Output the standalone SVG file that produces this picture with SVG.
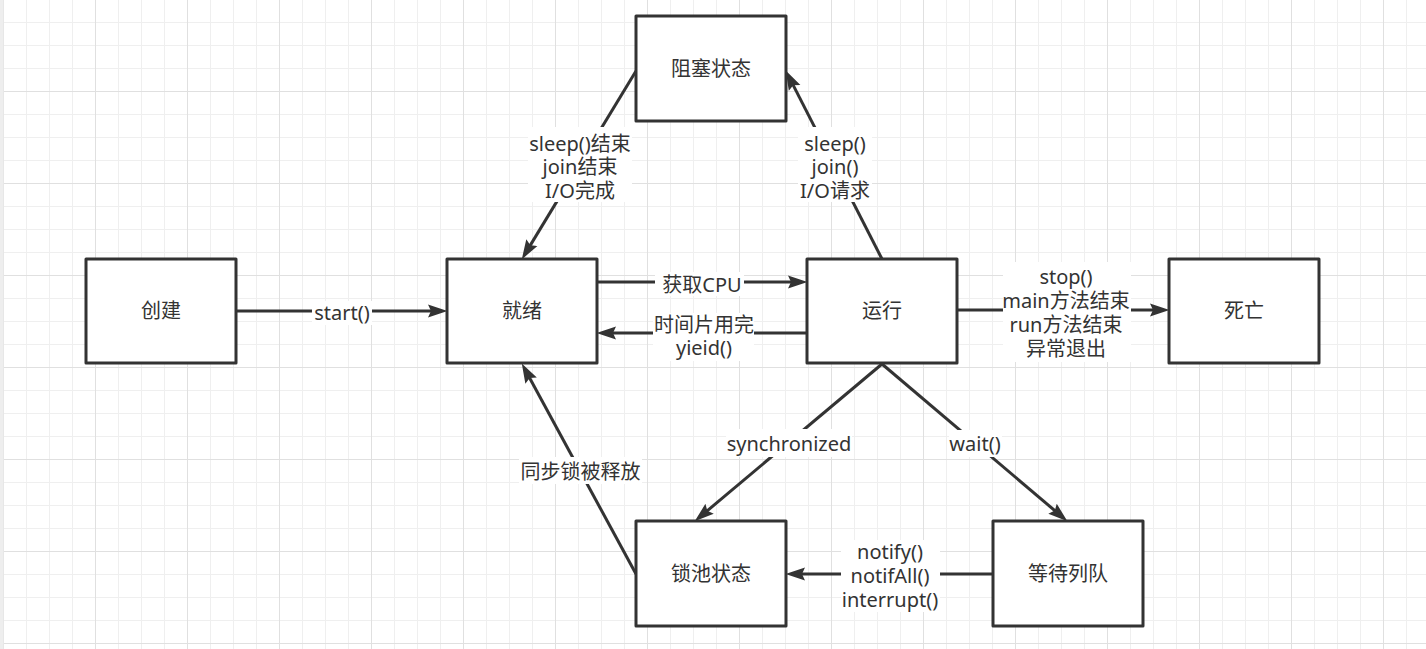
<svg xmlns="http://www.w3.org/2000/svg" width="1426" height="649" viewBox="0 0 1426 649">
<style>
.node rect{fill:#ffffff;stroke:#333333;stroke-width:3;stroke-linejoin:round}
text{font-family:"Noto Sans","Noto Sans CJK SC",sans-serif;font-size:20px;fill:#333333;text-anchor:middle}
.edge{fill:none;stroke:#333333;stroke-width:3}
.lbg{fill:#ffffff}
</style>
<defs>
<pattern id="grid" patternUnits="userSpaceOnUse" x="3" y="-1" width="92" height="92">
<path d="M23.5 0V92M46.5 0V92M69.5 0V92M0 23.5H92M0 46.5H92M0 69.5H92" stroke="#efefef" stroke-width="1" fill="none"/>
<path d="M0.5 0V92M0 0.5H92" stroke="#e0e0e0" stroke-width="1" fill="none"/>
</pattern>
<marker id="arr" markerUnits="userSpaceOnUse" markerWidth="22" markerHeight="16" viewBox="0 0 22 16" refX="9" refY="7" orient="auto">
<path d="M0,0.5 L19.5,7 L0,13.5 L3,7 Z" fill="#333333"/>
</marker>
</defs>
<rect x="0" y="0" width="1426" height="649" fill="#ffffff"/>
<rect x="0" y="0" width="1426" height="649" fill="url(#grid)"/>
<rect x="0" y="0" width="3.5" height="649" fill="#eeeeee"/>

<g id="connectors">
<path class="edge" d="M236 311H437" marker-end="url(#arr)"/>
<path class="edge" d="M597 282H797" marker-end="url(#arr)"/>
<path class="edge" d="M807 333H607" marker-end="url(#arr)"/>
<path class="edge" d="M957 310H1159" marker-end="url(#arr)"/>
<path class="edge" d="M636 71L527.2 250.4" marker-end="url(#arr)"/>
<path class="edge" d="M882 259L790.5 79.9" marker-end="url(#arr)"/>
<path class="edge" d="M882 364L702.7 514.6" marker-end="url(#arr)"/>
<path class="edge" d="M882 364L1059.4 514.5" marker-end="url(#arr)"/>
<path class="edge" d="M636 574L526.8 372.8" marker-end="url(#arr)"/>
<path class="edge" d="M993 574H796" marker-end="url(#arr)"/>

<rect class="lbg" x="312" y="301" width="60" height="24"/>
<text x="342" y="320">start()</text>

<rect class="lbg" x="655" y="272" width="89" height="24"/>
<text x="702" y="291.5">获取CPU</text>

<rect class="lbg" x="653" y="313" width="101" height="48"/>
<text x="704" y="331.5">时间片用完<tspan x="704" dy="23.5">yieid()</tspan></text>

<rect class="lbg" x="1003" y="262" width="128" height="100"/>
<text x="1066" y="283.5">stop()<tspan x="1066" dy="24">main方法结束</tspan><tspan x="1066" dy="24">run方法结束</tspan><tspan x="1066" dy="24">异常退出</tspan></text>

<rect class="lbg" x="528" y="127" width="104" height="75"/>
<text x="580" y="150.5">sleep()结束<tspan x="580" dy="23.5">join结束</tspan><tspan x="580" dy="23.5">I/O完成</tspan></text>

<rect class="lbg" x="798" y="127" width="74" height="75"/>
<text x="835" y="150.5">sleep()<tspan x="835" dy="23.5">join()</tspan><tspan x="835" dy="23.5">I/O请求</tspan></text>

<rect class="lbg" x="726" y="429" width="126" height="28"/>
<text x="789" y="451">synchronized</text>

<rect class="lbg" x="949" y="430" width="53" height="27"/>
<text x="975" y="451">wait()</text>

<rect class="lbg" x="519" y="457" width="123" height="27"/>
<text x="580.5" y="479">同步锁被释放</text>

<rect class="lbg" x="841" y="540" width="99" height="72"/>
<text x="890" y="558.5">notify()<tspan x="890" dy="24">notifAll()</tspan><tspan x="890" dy="24">interrupt()</tspan></text>
</g>

<g id="node-create" class="node">
<rect x="86" y="259" width="150" height="104"/>
<text x="161" y="318">创建</text>
</g>
<g id="node-ready" class="node">
<rect x="447" y="259" width="150" height="104"/>
<text x="522" y="318">就绪</text>
</g>
<g id="node-running" class="node">
<rect x="807" y="259" width="150" height="104"/>
<text x="882" y="318">运行</text>
</g>
<g id="node-dead" class="node">
<rect x="1169" y="259" width="150" height="104"/>
<text x="1244" y="318">死亡</text>
</g>
<g id="node-blocked" class="node">
<rect x="636" y="16" width="150" height="105"/>
<text x="711" y="76">阻塞状态</text>
</g>
<g id="node-lockpool" class="node">
<rect x="636" y="521" width="150" height="105"/>
<text x="711" y="581">锁池状态</text>
</g>
<g id="node-waitqueue" class="node">
<rect x="993" y="521" width="150" height="105"/>
<text x="1068" y="581">等待列队</text>
</g>
</svg>
